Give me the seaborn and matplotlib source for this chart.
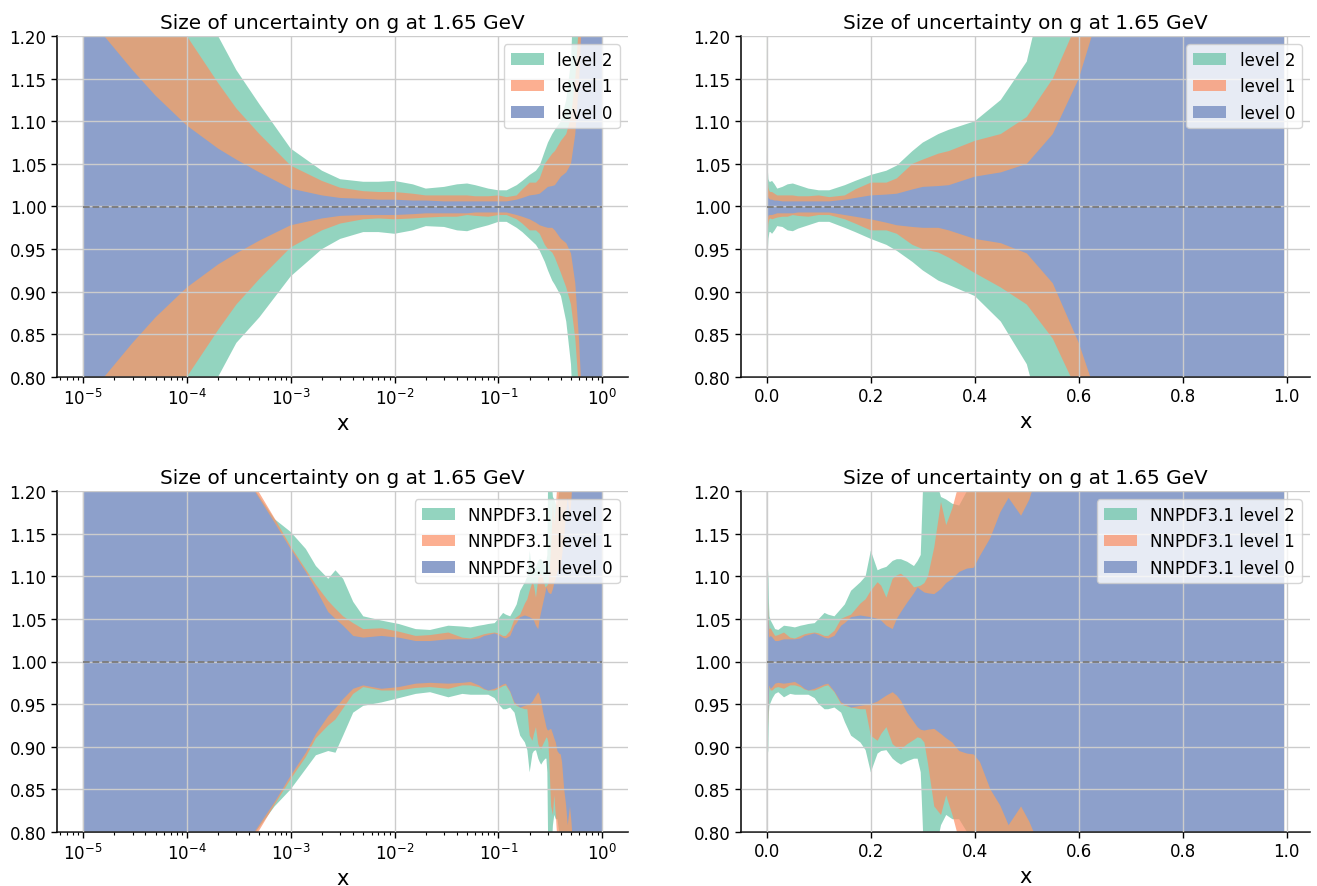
import numpy as np
import matplotlib
matplotlib.use("Agg")
import matplotlib.pyplot as plt
import seaborn as sns

# ---------------- data: top row (levels 0/1/2) ----------------
x_top = [1e-5, 1.6e-5, 3e-5, 5e-5, 1e-4, 2e-4, 3e-4, 5e-4, 1e-3, 2e-3, 3e-3, 5e-3, 7e-3,
         1e-2, 1.5e-2, 2e-2, 3e-2, 4e-2, 5e-2, 6e-2, 8e-2, 0.1, 0.12, 0.15, 0.17, 0.2,
         0.23, 0.25, 0.28, 0.3, 0.33, 0.35, 0.4, 0.45, 0.5, 0.55, 0.6, 0.65, 0.7, 0.8,
         0.9, 0.995]
top_l2_up = [1.60, 1.55, 1.45, 1.38, 1.29, 1.20, 1.16, 1.12, 1.068, 1.042, 1.032, 1.029, 1.029,
             1.030, 1.026, 1.021, 1.023, 1.026, 1.027, 1.025, 1.021, 1.019, 1.019, 1.025, 1.030,
             1.037, 1.042, 1.048, 1.065, 1.075, 1.085, 1.090, 1.100, 1.125, 1.17, 1.30, 1.45,
             1.60, 1.75, 2.0, 2.2, 2.4]
top_l2_lo = [0.40, 0.45, 0.53, 0.60, 0.70, 0.80, 0.84, 0.87, 0.918, 0.950, 0.962, 0.970, 0.970,
             0.968, 0.972, 0.977, 0.976, 0.972, 0.971, 0.974, 0.978, 0.982, 0.982, 0.975, 0.970,
             0.962, 0.955, 0.948, 0.935, 0.925, 0.913, 0.908, 0.895, 0.865, 0.815, 0.70, 0.55,
             0.40, 0.25, 0.0, -0.2, -0.4]
top_l1_up = [1.45, 1.40, 1.33, 1.27, 1.20, 1.145, 1.115, 1.085, 1.048, 1.030, 1.022, 1.018, 1.017,
             1.017, 1.015, 1.013, 1.013, 1.013, 1.013, 1.012, 1.012, 1.013, 1.011, 1.013, 1.020,
             1.028, 1.028, 1.033, 1.050, 1.055, 1.062, 1.065, 1.077, 1.085, 1.105, 1.15, 1.22,
             1.35, 1.50, 1.70, 1.90, 2.10]
top_l1_lo = [0.55, 0.60, 0.67, 0.72, 0.80, 0.855, 0.885, 0.915, 0.952, 0.972, 0.980, 0.985, 0.986,
             0.985, 0.986, 0.987, 0.988, 0.988, 0.990, 0.989, 0.988, 0.990, 0.990, 0.985, 0.980,
             0.972, 0.972, 0.968, 0.955, 0.950, 0.946, 0.940, 0.922, 0.905, 0.885, 0.845, 0.78,
             0.65, 0.50, 0.30, 0.10, -0.10]
top_l0_up = [1.28, 1.20, 1.16, 1.13, 1.095, 1.068, 1.055, 1.040, 1.021, 1.013, 1.010, 1.009, 1.008,
             1.008, 1.007, 1.007, 1.006, 1.006, 1.006, 1.006, 1.006, 1.006, 1.006, 1.008, 1.010,
             1.013, 1.014, 1.015, 1.020, 1.023, 1.024, 1.025, 1.035, 1.040, 1.050, 1.085, 1.15,
             1.25, 1.35, 1.50, 1.65, 1.80]
top_l0_lo = [0.72, 0.80, 0.84, 0.87, 0.905, 0.932, 0.945, 0.960, 0.978, 0.986, 0.989, 0.990, 0.990,
             0.990, 0.991, 0.992, 0.992, 0.992, 0.992, 0.993, 0.993, 0.993, 0.993, 0.990, 0.988,
             0.985, 0.981, 0.978, 0.976, 0.975, 0.975, 0.972, 0.962, 0.957, 0.945, 0.91, 0.84,
             0.75, 0.65, 0.50, 0.35, 0.20]

# ---------------- data: bottom row (NNPDF3.1 levels) ----------------
x_bot = [1e-5, 1e-4, 2e-4, 3e-4, 4.6e-4, 7e-4, 1e-3, 1.4e-3, 1.75e-3, 2.3e-3, 2.7e-3, 3.2e-3,
         4e-3, 5e-3, 7.5e-3, 1.1e-2, 1.6e-2, 2.2e-2, 3.3e-2, 0.045, 0.054, 0.065, 0.073, 0.08,
         0.092, 0.1, 0.111, 0.118, 0.13, 0.143, 0.15, 0.162, 0.18, 0.19, 0.2, 0.213, 0.22,
         0.23, 0.242, 0.25, 0.258, 0.27, 0.283, 0.29, 0.296, 0.303, 0.31, 0.322, 0.335, 0.345,
         0.357, 0.37, 0.385, 0.398, 0.41, 0.43, 0.449, 0.465, 0.489, 0.505, 0.52, 0.55, 0.6,
         0.7, 0.8, 0.9, 0.995]
bot_l2_up = [2.0, 1.6, 1.42, 1.30, 1.20, 1.167, 1.152, 1.132, 1.112, 1.097, 1.107, 1.097,
             1.070, 1.053, 1.048, 1.044, 1.038, 1.037, 1.042, 1.041, 1.040, 1.042, 1.043, 1.044,
             1.045, 1.050, 1.057, 1.055, 1.053, 1.062, 1.067, 1.083, 1.093, 1.100, 1.130, 1.107,
             1.109, 1.111, 1.118, 1.120, 1.120, 1.117, 1.112, 1.118, 1.125, 1.25, 1.25, 1.22,
             1.193, 1.19, 1.185, 1.183, 1.20, 1.26, 1.30, 1.35, 1.38, 1.42, 1.45, 1.50, 1.55,
             1.60, 1.70, 1.85, 2.0, 2.1, 2.2]
bot_l2_lo = [0.2, 0.5, 0.65, 0.72, 0.80, 0.83, 0.85, 0.874, 0.890, 0.895, 0.893, 0.913,
             0.940, 0.948, 0.952, 0.957, 0.962, 0.964, 0.958, 0.962, 0.961, 0.961, 0.961, 0.961,
             0.957, 0.950, 0.944, 0.944, 0.946, 0.940, 0.929, 0.913, 0.905, 0.896, 0.870, 0.892,
             0.895, 0.896, 0.886, 0.882, 0.879, 0.883, 0.886, 0.886, 0.870, 0.76, 0.76, 0.77,
             0.808, 0.82, 0.815, 0.815, 0.80, 0.76, 0.72, 0.68, 0.65, 0.60, 0.56, 0.52, 0.48,
             0.42, 0.35, 0.20, 0.05, -0.05, -0.15]
bot_l1_up = [1.9, 1.55, 1.40, 1.29, 1.205, 1.168, 1.135, 1.108, 1.090, 1.071, 1.062, 1.053,
             1.045, 1.038, 1.039, 1.035, 1.030, 1.031, 1.034, 1.028, 1.027, 1.030, 1.032, 1.033,
             1.034, 1.033, 1.030, 1.030, 1.036, 1.050, 1.052, 1.055, 1.068, 1.073, 1.083, 1.093,
             1.089, 1.075, 1.097, 1.101, 1.103, 1.097, 1.087, 1.088, 1.089, 1.092, 1.100, 1.134,
             1.187, 1.160, 1.180, 1.21, 1.24, 1.27, 1.30, 1.32, 1.35, 1.38, 1.40, 1.43, 1.46,
             1.50, 1.56, 1.68, 1.80, 1.90, 2.0]
bot_l1_lo = [0.25, 0.55, 0.66, 0.73, 0.795, 0.832, 0.862, 0.888, 0.910, 0.925, 0.932, 0.945,
             0.962, 0.970, 0.966, 0.966, 0.969, 0.970, 0.968, 0.972, 0.972, 0.970, 0.967, 0.966,
             0.966, 0.968, 0.971, 0.972, 0.964, 0.950, 0.948, 0.946, 0.944, 0.944, 0.913, 0.907,
             0.915, 0.923, 0.903, 0.899, 0.897, 0.903, 0.908, 0.911, 0.910, 0.905, 0.880, 0.830,
             0.820, 0.843, 0.820, 0.790, 0.770, 0.750, 0.730, 0.700, 0.680, 0.650, 0.620, 0.600,
             0.570, 0.540, 0.480, 0.380, 0.250, 0.150, 0.05]
bot_l0_up = [1.8, 1.5, 1.38, 1.28, 1.198, 1.163, 1.132, 1.105, 1.085, 1.058, 1.050, 1.042,
             1.030, 1.028, 1.030, 1.028, 1.024, 1.024, 1.026, 1.026, 1.026, 1.027, 1.030, 1.031,
             1.033, 1.031, 1.028, 1.027, 1.030, 1.042, 1.045, 1.052, 1.054, 1.053, 1.052, 1.050,
             1.048, 1.042, 1.038, 1.050, 1.058, 1.069, 1.080, 1.087, 1.084, 1.081, 1.080, 1.079,
             1.085, 1.092, 1.097, 1.105, 1.109, 1.110, 1.124, 1.145, 1.175, 1.192, 1.171, 1.190,
             1.22, 1.30, 1.40, 1.55, 1.65, 1.75, 1.85]
bot_l0_lo = [0.3, 0.6, 0.68, 0.74, 0.802, 0.835, 0.866, 0.893, 0.915, 0.936, 0.945, 0.956,
             0.968, 0.972, 0.968, 0.970, 0.974, 0.975, 0.974, 0.975, 0.976, 0.972, 0.968, 0.966,
             0.968, 0.970, 0.973, 0.974, 0.965, 0.952, 0.950, 0.946, 0.948, 0.949, 0.950, 0.953,
             0.956, 0.960, 0.964, 0.960, 0.954, 0.940, 0.929, 0.923, 0.920, 0.919, 0.920, 0.921,
             0.915, 0.910, 0.905, 0.895, 0.892, 0.891, 0.882, 0.850, 0.831, 0.808, 0.830, 0.812,
             0.790, 0.720, 0.600, 0.450, 0.350, 0.250, 0.150]

title = "Size of uncertainty on g at 1.65 GeV"
top_labels = ["level 2", "level 1", "level 0"]
bot_labels = ["NNPDF3.1 level 2", "NNPDF3.1 level 1", "NNPDF3.1 level 0"]

# ---------------- style ----------------
sns.set_style("white")
plt.rcParams["font.family"] = ["DejaVu Sans"]
for k in ["text.color", "axes.labelcolor", "xtick.color", "ytick.color"]:
    plt.rcParams[k] = "black"
pal = sns.color_palette("Set2")
c_green, c_orange, c_blue = pal[0], pal[1], pal[2]

fig = plt.figure(figsize=(13.17, 8.87), dpi=100)
W, H = 1317, 887
rects = {
    "tl": [57 / W, 1 - 378 / H, 571 / W, 341 / H],
    "tr": [741 / W, 1 - 378 / H, 569 / W, 341 / H],
    "bl": [57 / W, 1 - 833 / H, 571 / W, 341 / H],
    "br": [741 / W, 1 - 833 / H, 569 / W, 341 / H],
}


def draw(ax, x, bands, labels, logx):
    x = np.asarray(x)
    cols = [c_green, c_orange, c_blue]
    alphas = [0.7, 0.7, 1.0]
    for (lo, up), col, a, lab in zip(bands, cols, alphas, labels):
        ax.fill_between(x, lo, up, color=col, alpha=a, lw=0, label=lab)
    sns.lineplot(x=x, y=np.ones_like(x), ax=ax, color="#7a7a7a", lw=1.3,
                 linestyle="--", zorder=3)
    if logx:
        ax.set_xscale("log")
    ax.set_ylim(0.8, 1.2)
    ax.set_yticks(np.arange(0.80, 1.2001, 0.05))
    ax.set_axisbelow(False)
    ax.grid(True, color="#cccccc", lw=1.0, zorder=2)
    ax.set_title(title, fontsize=14.4, color="black")
    ax.set_xlabel("x", fontsize=15, color="black")
    ax.tick_params(axis="both", which="major", labelsize=12, direction="out",
                   length=4, width=1, bottom=True, left=True, color="black",
                   labelcolor="black")
    ax.tick_params(axis="x", which="minor", bottom=True, length=2.5, width=0.8,
                   color="black")
    for s in ["left", "bottom"]:
        ax.spines[s].set_color("black")
        ax.spines[s].set_linewidth(1.1)
    sns.despine(ax=ax)
    leg = ax.legend(loc="upper right", fontsize=12, framealpha=0.8,
                    edgecolor="#cccccc", fancybox=True)
    for t in leg.get_texts():
        t.set_color("black")


top_bands = [(top_l2_lo, top_l2_up), (top_l1_lo, top_l1_up), (top_l0_lo, top_l0_up)]
bot_bands = [(bot_l2_lo, bot_l2_up), (bot_l1_lo, bot_l1_up), (bot_l0_lo, bot_l0_up)]

draw(fig.add_axes(rects["tl"]), x_top, top_bands, top_labels, True)
draw(fig.add_axes(rects["tr"]), x_top, top_bands, top_labels, False)
draw(fig.add_axes(rects["bl"]), x_bot, bot_bands, bot_labels, True)
draw(fig.add_axes(rects["br"]), x_bot, bot_bands, bot_labels, False)

fig.savefig("out.png", dpi=100)
